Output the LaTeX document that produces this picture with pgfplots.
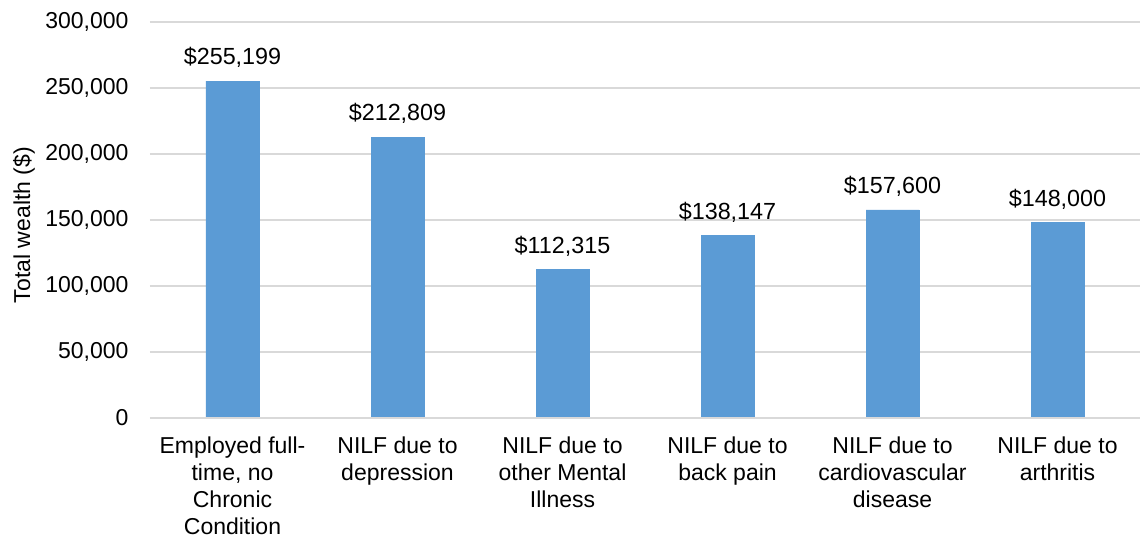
\documentclass[border=0pt]{standalone}
\usepackage{pgfplots}
\pgfplotsset{compat=1.18}
\usepackage{fontspec}
\setmainfont{Liberation Sans}
\definecolor{barblue}{HTML}{5B9BD5}
\definecolor{gridgray}{HTML}{D9D9D9}
\begin{document}
\begin{tikzpicture}
\begin{axis}[
  name=ax,
  scale only axis,
  width=742.5pt, height=297pt,
  xmin=-0.5, xmax=5.5,
  ymin=0, ymax=300000,
  ytick={0,50000,100000,150000,200000,250000,300000},
  xtick={0,1,2,3,4,5},
  xticklabels={{Employed full-\\time, no\\Chronic\\Condition},{NILF due to\\depression},{NILF due to\\other Mental\\Illness},{NILF due to\\back pain},{NILF due to\\cardiovascular\\disease},{NILF due to\\arthritis}},
  scaled y ticks=false,
  /pgf/number format/.cd, 1000 sep={,}, fixed, precision=0, assume math mode=true,
  /pgfplots/.cd,
  ymajorgrids,
  grid style={draw=gridgray, line width=1pt},
  axis line style={draw=none},
  tick style={draw=none},
  every tick label/.append style={font=\fontsize{17.25}{20.1}\selectfont, text=black},
  yticklabel style={anchor=east, inner sep=0pt, xshift=-16pt},
  xticklabel style={anchor=north, inner sep=0pt, yshift=-14.25pt, align=center},
  ylabel={Total wealth (\$)},
  ylabel style={at={(axis description cs:-0.1212,0.487)}, anchor=base, font=\fontsize{17.25}{20}\selectfont, inner sep=0pt},
  clip=false,
]
\addplot[ybar, bar width=39.75pt, fill=barblue, draw=barblue,
  nodes near coords={\$\pgfmathprintnumber{\pgfplotspointmeta}},
  every node near coord/.append style={anchor=south, inner sep=0pt, yshift=10pt, font=\fontsize{17.5}{20}\selectfont, text=black},
] coordinates {(0,255199) (1,212809) (2,112315) (3,138147) (4,157600) (5,148000)};
\draw[gridgray, line width=1.2pt] (rel axis cs:0,0) -- (rel axis cs:1,0);
\end{axis}
\pgfresetboundingbox
\path[use as bounding box] ([xshift=-112.5pt,yshift=-89.25pt]ax.south west) rectangle ([yshift=16.5pt]ax.north east);
\end{tikzpicture}
\end{document}
